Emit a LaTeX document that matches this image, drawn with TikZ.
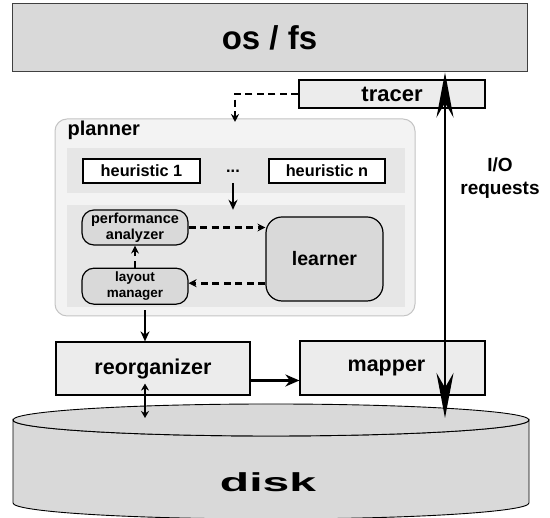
\documentclass[tikz,border=0pt]{standalone}
\usepackage{fontspec}
\setmainfont{Liberation Sans}
\newfontfamily\widefont[FakeStretch=1.85]{Liberation Sans}
\usepackage{tikz}
\usetikzlibrary {arrows.meta,
                 calc,
                 positioning}
\definecolor{boxgray}{HTML}{D9D9D9}
\definecolor{lightbox}{HTML}{ECECEC}
\definecolor{plannerbg}{HTML}{F3F3F3}
\definecolor{plannerline}{HTML}{C4C4C4}
\definecolor{bandgray}{HTML}{E6E6E6}
\tikzset{
        base/.style={draw, line width=1.2pt, inner sep=0pt, align=center},
        layer/.style={base, rectangle, fill=lightbox},
        heur/.style={base, rectangle, fill=white, minimum width=117pt,
                     minimum height=24pt, font=\fontsize{16.3}{18}\bfseries},
        band/.style={rectangle, fill=bandgray, minimum width=338pt},
        comp/.style={base, rounded corners=12pt, fill=boxgray,
                     minimum width=106pt, minimum height=35pt},
        myarrow/.style={-{Stealth[length=10pt,width=9pt]}, line width=2.4pt},
        dasharrow/.style={-{Stealth[length=8pt,width=8pt]}, line width=2.7pt,
                          dash pattern=on 7pt off 4.5pt},
        ioarrow/.style={{Stealth[length=45pt,width=17pt]}-{Stealth[length=45pt,width=17pt]},
                        line width=2pt},
 }

\begin{document}
\begin{tikzpicture}[x=1pt, y=1pt]
    \useasboundingbox (0,0) rectangle (550,518);
    \path[draw, line width=0.9pt, fill=boxgray] (13,98) -- (13,15)
        arc[start angle=180, end angle=360, x radius=258pt, y radius=16pt]
        -- (529,98)
        arc[start angle=0, end angle=-180, x radius=258pt, y radius=16pt] -- cycle;
    \draw[line width=0.9pt, fill=boxgray] (271,98) ellipse [x radius=258pt, y radius=16pt];
    \node[font=\widefont\fontsize{26}{28}\bfseries] (disk) at (268,36) {disk};
    \node[base, fill=boxgray, draw=black!75, line width=1pt, minimum width=515pt,
          minimum height=68pt, font=\fontsize{33}{36}\bfseries] (osfs) at (269.5,480) {os / fs};
    \node[layer, minimum width=186pt, minimum height=28pt,
          font=\fontsize{22}{24}\bfseries] (tracer) at (392,424) {tracer};
    \node[draw=plannerline, line width=1pt, fill=plannerbg, rounded corners=12pt,
          minimum width=360pt, minimum height=197pt] (planner) at (235,300.5) {};
    \node[inner sep=0pt, font=\fontsize{20}{22}\bfseries,
          below right=2pt and 13pt of planner.north west] (plannerlabel) {planner};
    \node[band, minimum height=45pt] (heurband) at (236,347.5) {};
    \node[band, minimum height=102pt] (lowband) at (236,262) {};
    \node[heur] (heur1) at (141.5,347) {heuristic 1};
    \node[heur, minimum width=116pt] (heurn) at (327,347) {heuristic n};
    \node[inner sep=0pt, font=\fontsize{16.3}{18}\bfseries] (dots) at (233,347) {...};
    \node[comp, font=\fontsize{14.5}{16}\bfseries] (perf) at (135,290.5) {performance\\analyzer};
    \node[comp, minimum height=36pt, font=\fontsize{13.5}{16}\bfseries,
          below=22pt of perf] (layout) {layout\\manager};
    \node[comp, rounded corners=16pt, minimum width=117pt, minimum height=84pt,
          font=\fontsize{19.5}{22}\bfseries] (learner) at (324.5,259) {learner};
    \node[layer, minimum width=194pt, minimum height=53pt,
          font=\fontsize{21.5}{24}\bfseries] (reorg) at (153,149.5) {reorganizer};
    \node[layer, minimum width=185pt, minimum height=54pt,
          font=\fontsize{21.5}{24}\bfseries] (mapper) at (392.5,150)
          {\raisebox{4pt}{\hspace*{-12pt}mapper}};
    \node[align=center, font=\fontsize{19}{23}\bfseries] (iolabel) at (500,340) {I/O\\requests};

    \coordinate (diskio) at (445,100);
    \coordinate (diskreorg) at (145,100);
    \coordinate (plannerin) at (235,396);
    \coordinate (r2m) at ($(reorg.east)+(0,-12)$);

    \draw[dasharrow] (tracer.west) -| (plannerin);
    \draw[myarrow] ($(dots)+(0,-12)$) -- ($(lowband.north -| dots)+(0,-5)$);
    \draw[dasharrow] (perf.east) -- (perf.east -| learner.west);
    \draw[dasharrow] ($(learner.west |- layout.east)+(0,3)$) -- ($(layout.east)+(0,3)$);
    \draw[dasharrow] (layout.north) -- (perf.south);
    \draw[myarrow] ($(planner.south -| diskreorg)+(0,6)$) -- (reorg.north -| diskreorg);
    \draw[-{Stealth[length=14pt,width=12pt]}, line width=2.2pt] (r2m) -- (r2m -| mapper.west);
    \draw[{Stealth[length=7pt,width=8pt]}-{Stealth[length=7pt,width=8pt]}, line width=1.8pt]
        ($(reorg.south -| diskreorg)+(0,12)$) -- (diskreorg);
    \draw[ioarrow] (osfs.south -| diskio) -- (diskio);
\end{tikzpicture}
\end{document}
